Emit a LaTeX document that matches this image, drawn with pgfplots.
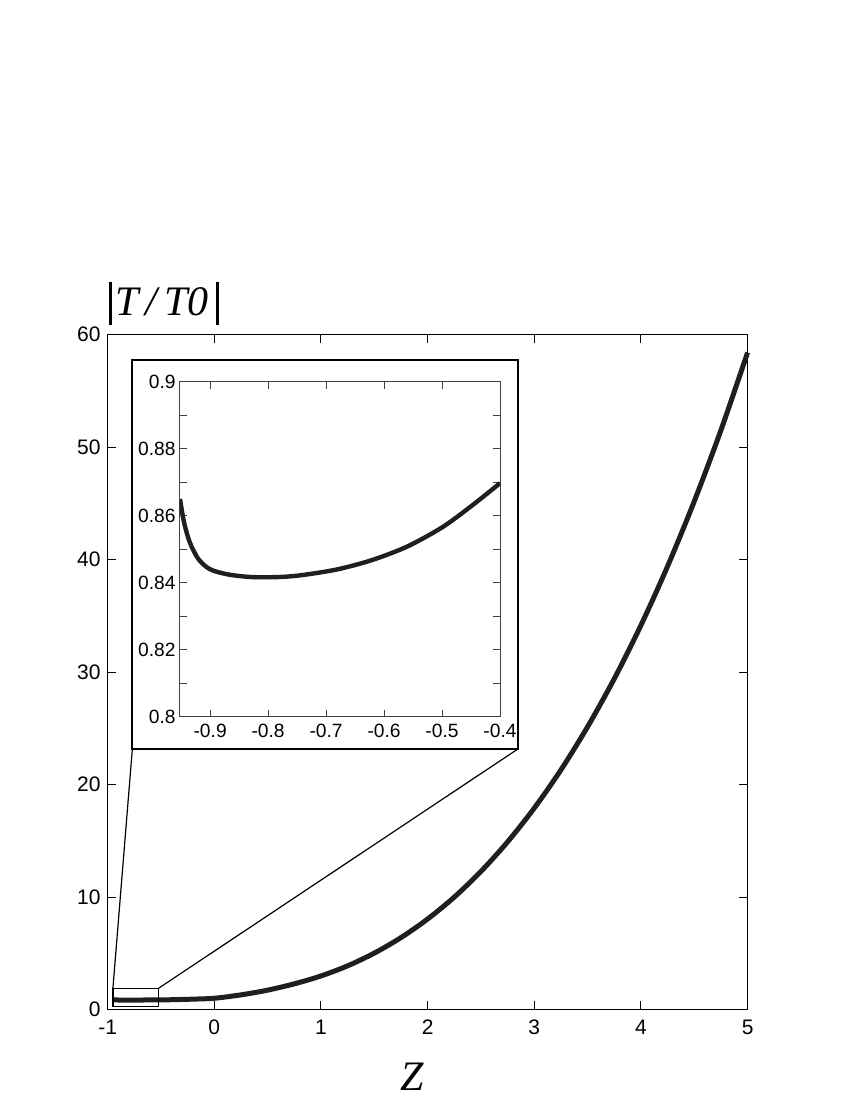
\documentclass[border=0pt]{standalone}
\usepackage{fontspec}
\setmainfont{Liberation Sans}
\newfontfamily\timesf{Liberation Serif}
\usepackage{pgfplots}
\usepackage{pgfplotstable}
\pgfplotsset{compat=1.18}

% |T/T0| against Z
\pgfplotstableread{
z t
-0.952 0.865
-0.945 0.858
-0.935 0.852
-0.92 0.847
-0.90 0.8440
-0.87 0.8425
-0.83 0.8417
-0.78 0.8417
-0.74 0.8423
-0.68 0.8440
-0.62 0.8468
-0.56 0.8508
-0.50 0.8565
-0.45 0.8628
-0.40 0.8697
-0.20 0.92
0.00 1.00
0.25 1.30
0.50 1.72
0.75 2.28
1.00 2.98
1.25 3.88
1.50 5.01
1.75 6.39
2.00 8.04
2.25 9.99
2.50 12.27
2.75 14.90
3.00 17.90
3.25 21.30
3.50 25.13
3.75 29.40
4.00 34.15
4.25 39.40
4.50 45.17
4.75 51.49
5.00 58.40
}\curvedata

\pgfplotstableread{
z t
-0.952 0.865
-0.945 0.858
-0.935 0.852
-0.92 0.847
-0.90 0.8440
-0.87 0.8425
-0.83 0.8417
-0.78 0.8417
-0.74 0.8423
-0.68 0.8440
-0.62 0.8468
-0.56 0.8508
-0.50 0.8565
-0.45 0.8628
-0.40 0.8697
}\zoomdata

\newcommand{\vbar}{\raisebox{-5pt}{\rule{1.8pt}{21.5pt}}}

\begin{document}
\begin{tikzpicture}
\path[use as bounding box] (-53.8pt,-45.25pt) rectangle (371.2pt,504.75pt);
\begin{axis}[
    name=main,
    at={(0,0)}, anchor=south west,
    scale only axis, width=320pt, height=337.5pt,
    xmin=-1, xmax=5, ymin=0, ymax=60,
    xtick={-1,0,1,2,3,4,5},
    ytick={0,10,20,30,40,50,60},
    tick align=inside,
    xtick pos=both, ytick pos=both,
    xticklabel pos=bottom, yticklabel pos=left,
    axis line style={line width=0.6pt},
    every tick/.style={black, line width=0.5pt},
    ticklabel style={font=\fontsize{10.5}{12}\selectfont},
    xticklabel style={yshift=-1.5pt},
    /pgf/number format/assume math mode=true,
    clip=false
]
\addplot[line width=2.5pt, black!88, smooth] table[x=z, y=t] {\curvedata};
\draw[line width=0.6pt] (axis cs:-0.95,0.3) rectangle (axis cs:-0.52,1.9);
\draw[line width=0.6pt] (axis cs:-0.95,1.9) -- (axis cs:-0.768,23.16);
\draw[line width=0.6pt] (axis cs:-0.52,1.9) -- (axis cs:2.847,23.16);
\draw[fill=white, line width=1pt] (axis cs:-0.768,23.16) rectangle (axis cs:2.847,57.73);
\node[anchor=base west, inner sep=0pt] at (axis cs:-0.995,61.7)
  {\vbar\,\timesf\itshape\fontsize{21}{24}\selectfont T\,/\,T0\,\vbar};
\node at (axis cs:1.86,-6) {\timesf\itshape\fontsize{21}{24}\selectfont Z};
\end{axis}

\begin{axis}[
    at={(36.2pt,146.4pt)}, anchor=south west,
    scale only axis, width=160pt, height=167.5pt,
    xmin=-0.952, xmax=-0.4, ymin=0.8, ymax=0.9,
    xtick={-0.9,-0.8,-0.7,-0.6,-0.5,-0.4},
    ytick={0.8,0.82,0.84,0.86,0.88,0.9},
    minor ytick={0.81,0.83,0.85,0.87,0.89},
    tick align=inside,
    xtick pos=both, ytick pos=both,
    xticklabel pos=bottom, yticklabel pos=left,
    axis line style={line width=0.5pt, black!75},
    every tick/.style={black!75, line width=0.5pt},
    major tick length=3.5pt, minor tick length=3.5pt,
    ticklabel style={font=\fontsize{9.6}{11}\selectfont},
    yticklabel style={inner sep=2pt},
    /pgf/number format/assume math mode=true,
    xticklabel style={/pgf/number format/.cd, fixed, precision=1},
]
\addplot[line width=2.2pt, black!88, smooth] table[x=z, y=t] {\zoomdata};
\end{axis}
\end{tikzpicture}
\end{document}
